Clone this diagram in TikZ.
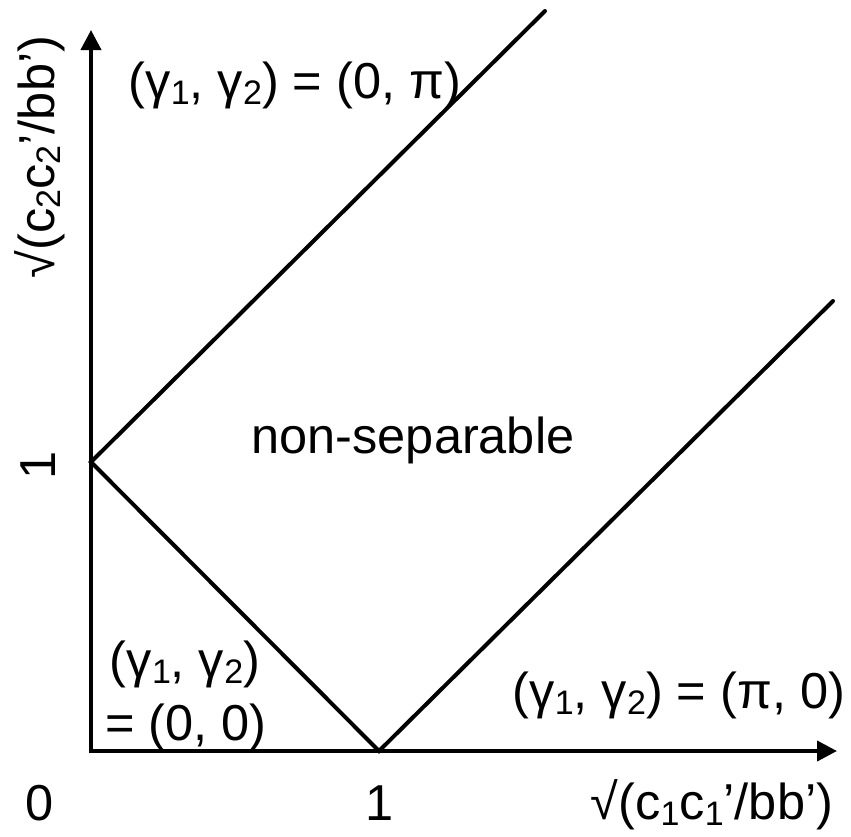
\documentclass[tikz,border=0pt]{standalone}
\usepackage{fontspec}
\setmainfont{Liberation Sans}
\usetikzlibrary{arrows.meta}
\newcommand\sbs[1]{\raisebox{-0.12em}{\fontsize{34}{36}\selectfont #1}}
\begin{document}
\begin{tikzpicture}[x=1pt,y=-1pt,
  lbl/.style={font=\fontsize{50.5}{60}\selectfont, inner sep=0pt, anchor=base},
  axis/.style={line width=4pt, -{Triangle[length=20pt,width=20pt]}},
  bound/.style={line width=4pt}]
\useasboundingbox (0,0) rectangle (851,836);
\coordinate (O) at (91,751);
\coordinate (Ytip) at (91,30);
\coordinate (Xtip) at (837,751);
\coordinate (Y1) at (91,462);
\coordinate (X1) at (379,751);
\coordinate (Uend) at (545,11);
\coordinate (Rend) at (833,301);
\draw[axis] ([yshift=2pt]O) -- (Ytip);
\draw[axis] ([xshift=-2pt]O) -- (Xtip);
\draw[bound, line cap=round] (Uend) -- (Y1) -- (X1) -- (Rend);
\node[lbl] (t1) at (295,98) {(γ\sbs{1}, γ\sbs{2}) = (0, π)};
\node[lbl] (t2) at (413,453) {non-separable};
\node[lbl] (t3) at (185,677) {(γ\sbs{1}, γ\sbs{2})};
\node[lbl] (t4) at (186,740) {= (0, 0)};
\node[lbl] (t5) at (679,708) {(γ\sbs{1}, γ\sbs{2}) = (π, 0)};
\node[lbl] (z0) at (40,820) {0};
\node[lbl] (x1) at (380,820) {1};
\node[lbl] (xl) at (712,819) {√(c\sbs{1}c\sbs{1}’/bb’)};
\node[lbl, rotate=90] (y1) at (55,465) {1};
\node[lbl, rotate=90] (yl) at (54,157) {√(c\sbs{2}c\sbs{2}’/bb’)};
\end{tikzpicture}
\end{document}
